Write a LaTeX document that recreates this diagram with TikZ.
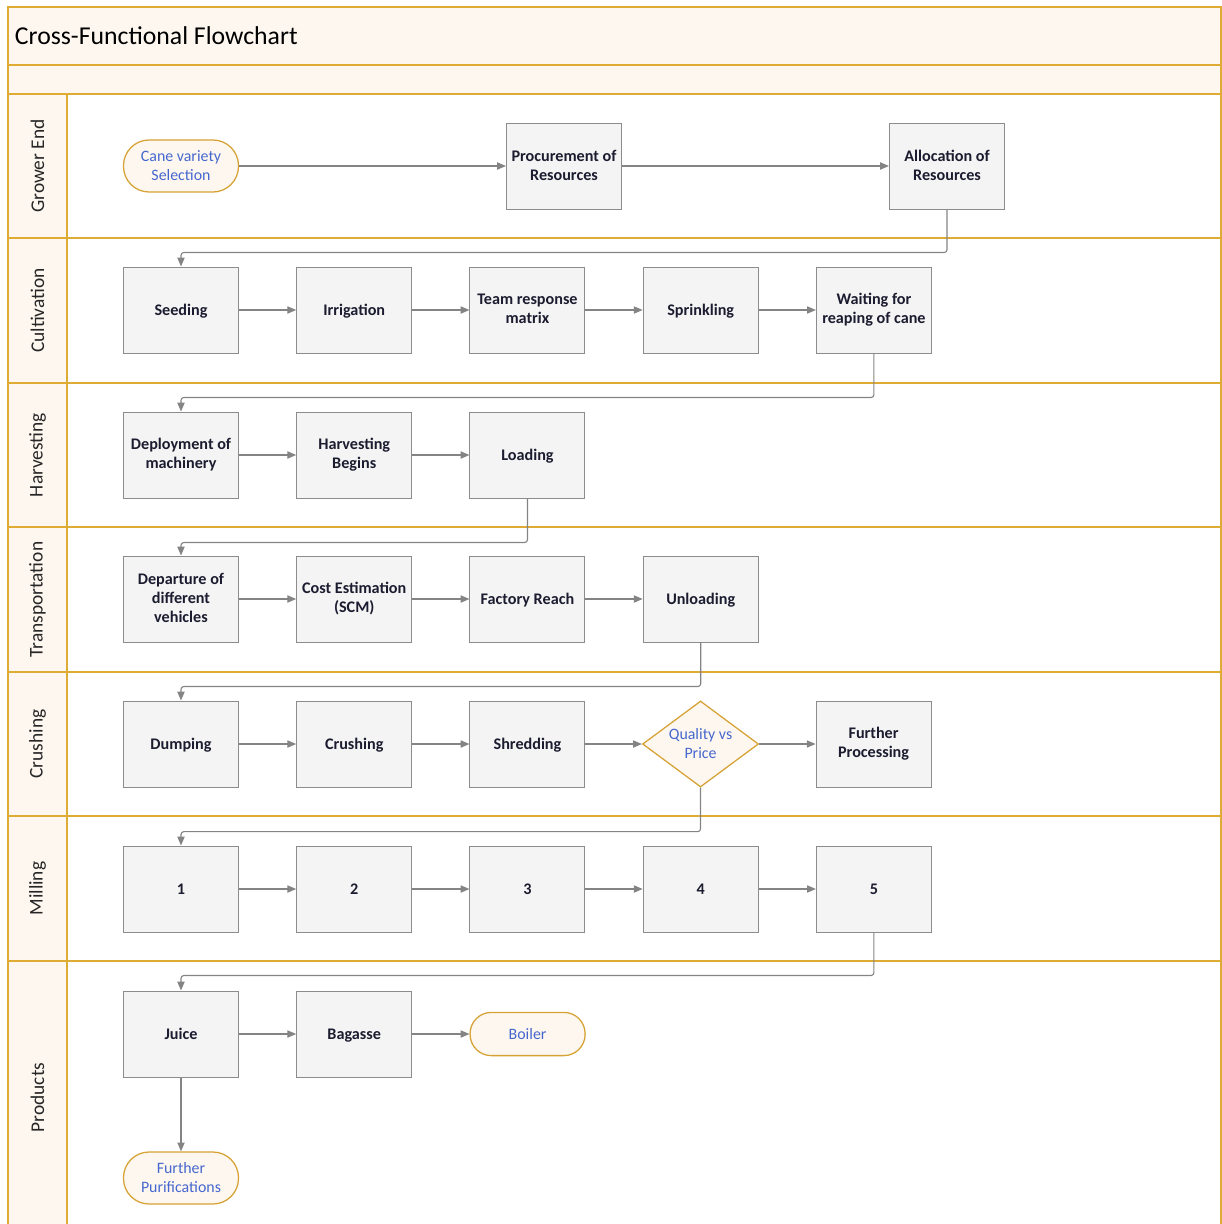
\documentclass[tikz,border=0pt]{standalone}
\usepackage{fontspec}
\setmainfont{Carlito}
\usepackage{tikz}
\usetikzlibrary{shapes.geometric, arrows.meta, positioning}
\definecolor{lanegold}{RGB}{222, 172, 52}
\definecolor{lanefill}{RGB}{254, 247, 240}
\definecolor{boxfill}{RGB}{244, 244, 244}
\definecolor{boxline}{RGB}{140, 140, 140}
\definecolor{boxtext}{RGB}{28, 28, 48}
\definecolor{termline}{RGB}{214, 162, 52}
\definecolor{termtext}{RGB}{70, 104, 206}
\definecolor{flowgray}{RGB}{132, 132, 132}

\begin{document}
\begin{tikzpicture}[
    x=0.025cm, y=-0.025cm,
    every node/.style={font=\fontsize{11.3}{13.5}\selectfont},
    lane/.style={
        draw=lanegold, 
        line width=0.9pt
    },
    lanehead/.style={
        draw=lanegold, 
        line width=0.9pt, 
        fill=lanefill
    },
    lanelabel/.style={
        rotate=90, 
        font=\fontsize{13.8}{16}\selectfont, 
        text=black!85
    },
    process/.style={
        rectangle, 
        draw=boxline, 
        line width=0.7pt, 
        fill=boxfill, 
        minimum width=2.875cm, 
        minimum height=2.15cm, 
        inner sep=0pt, 
        align=center, 
        text=boxtext, 
        font=\bfseries\fontsize{11.5}{13.5}\selectfont,
        execute at begin node=\rule{0pt}{10pt},
        execute at end node=\rule[-1.5pt]{0pt}{1.5pt}
    },
    terminal/.style={
        rectangle, 
        rounded corners=0.64cm, 
        draw=termline, 
        line width=0.9pt, 
        fill=lanefill, 
        minimum width=2.875cm, 
        minimum height=1.3cm, 
        inner sep=0pt, 
        align=center, 
        text=termtext
    },
    decision/.style={
        diamond, 
        aspect=1.35, 
        draw=termline, 
        line width=0.9pt, 
        fill=lanefill, 
        minimum width=2.9cm, 
        minimum height=2.15cm, 
        inner sep=-1pt, 
        align=center, 
        text=termtext
    },
    arrow/.style={
        line width=0.8pt, 
        -{Triangle[length=2.2mm, width=1.8mm]}, 
        draw=flowgray
    },
    elbow/.style={
        arrow, 
        rounded corners=2pt
    }
]
\useasboundingbox (0,0) rectangle (1222,1224);

% ==================== POOL: TITLE & LANES ====================
\draw [lanehead] (8,7) rectangle (1221,65);
\draw [lanehead] (8,65) rectangle (1221,94);
\node (title) [anchor=west, font=\fontsize{18.3}{21}\selectfont] at (10,36) {Cross-Functional Flowchart};

\foreach \ytop/\ybot/\lname [count=\i] in {94/238/Grower End, 238/383/Cultivation, 383/527/Harvesting, 527/672/Transportation, 672/816/Crushing, 816/961/Milling, 961/1234/Products}{
    \draw [lane] (8,\ytop) rectangle (1221,\ybot);
    \draw [lanehead] (8,\ytop) rectangle (67,\ybot);
    \node (lane\i) [lanelabel] at (37.5,{(\ytop+\ybot)/2}) {\lname};
}

% ==================== GROWER END ====================
\node (cane) [terminal] at (181,166) {Cane variety\\Selection};
\node (procure) [process] at (564,166) {Procurement of\\Resources};
\node (alloc) [process] at (947,166) {Allocation of\\Resources};

% ==================== CULTIVATION ====================
\node (seeding) [process] at (181,310) {Seeding};
\node (irrigation) [process, right=1.43cm of seeding] {Irrigation};
\node (team) [process, right=1.43cm of irrigation] {Team response\\matrix};
\node (sprinkling) [process, right=1.43cm of team] {Sprinkling};
\node (waiting) [process, right=1.43cm of sprinkling] {Waiting for\\reaping of cane};

% ==================== HARVESTING ====================
\node (deploy) [process] at (181,455) {Deployment of\\machinery};
\node (harvest) [process, right=1.43cm of deploy] {Harvesting\\Begins};
\node (loading) [process, right=1.43cm of harvest] {Loading};

% ==================== TRANSPORTATION ====================
\node (departure) [process] at (181,599) {Departure of\\different\\vehicles};
\node (cost) [process, right=1.43cm of departure] {Cost Estimation\\(SCM)};
\node (reach) [process, right=1.43cm of cost] {Factory Reach};
\node (unloading) [process, right=1.43cm of reach] {Unloading};

% ==================== CRUSHING ====================
\node (dumping) [process] at (181,744) {Dumping};
\node (crushing) [process, right=1.43cm of dumping] {Crushing};
\node (shredding) [process, right=1.43cm of crushing] {Shredding};
\node (quality) [decision, right=1.41cm of shredding] {Quality vs\\Price};
\node (further) [process, right=1.41cm of quality] {Further\\Processing};

% ==================== MILLING ====================
\node (m1) [process] at (181,889) {1};
\node (m2) [process, right=1.43cm of m1] {2};
\node (m3) [process, right=1.43cm of m2] {3};
\node (m4) [process, right=1.43cm of m3] {4};
\node (m5) [process, right=1.43cm of m4] {5};

% ==================== PRODUCTS ====================
\node (juice) [process] at (181,1034) {Juice};
\node (bagasse) [process, right=1.43cm of juice] {Bagasse};
\node (boiler) [terminal, minimum height=1.08cm, rounded corners=0.53cm, right=1.43cm of bagasse] {Boiler};
\node (purif) [terminal] at (181,1178) {Further\\Purifications};


% ==================== CONNECTIONS ====================

% Grower end flow
\draw [arrow] (cane) -- (procure);
\draw [arrow] (procure) -- (alloc);
\draw [elbow] (alloc.south) -- ++(0,43) -| (seeding.north);

% Cultivation flow
\draw [arrow] (seeding) -- (irrigation);
\draw [arrow] (irrigation) -- (team);
\draw [arrow] (team) -- (sprinkling);
\draw [arrow] (sprinkling) -- (waiting);
\draw [elbow] (waiting.south) -- ++(0,44) -| (deploy.north);

% Harvesting flow
\draw [arrow] (deploy) -- (harvest);
\draw [arrow] (harvest) -- (loading);
\draw [elbow] (loading.south) -- ++(0,44) -| (departure.north);

% Transportation flow
\draw [arrow] (departure) -- (cost);
\draw [arrow] (cost) -- (reach);
\draw [arrow] (reach) -- (unloading);
\draw [elbow] (unloading.south) -- ++(0,44) -| (dumping.north);

% Crushing flow
\draw [arrow] (dumping) -- (crushing);
\draw [arrow] (crushing) -- (shredding);
\draw [arrow] (shredding) -- (quality);
\draw [arrow] (quality) -- (further);
\draw [elbow] (quality.south) -- ++(0,44) -| (m1.north);

% Milling flow
\draw [arrow] (m1) -- (m2);
\draw [arrow] (m2) -- (m3);
\draw [arrow] (m3) -- (m4);
\draw [arrow] (m4) -- (m5);
\draw [elbow] (m5.south) -- ++(0,43) -| (juice.north);

% Products flow
\draw [arrow] (juice) -- (bagasse);
\draw [arrow] (bagasse) -- (boiler);
\draw [arrow] (juice) -- (purif);

\end{tikzpicture}
\end{document}
